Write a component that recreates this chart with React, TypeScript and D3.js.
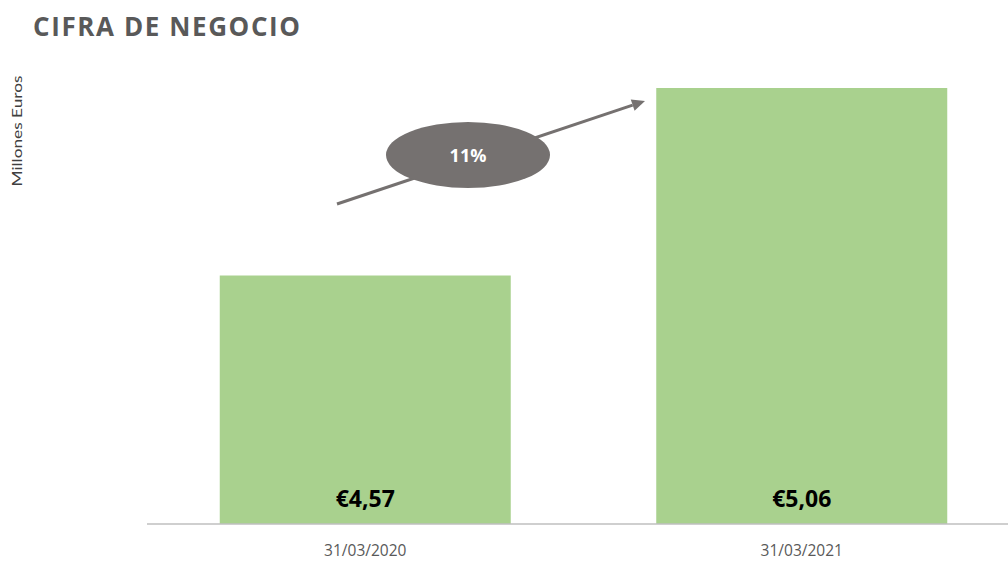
import React from "react";
import * as d3 from "d3";

const categories = ["31/03/2020", "31/03/2021"];
const values = [4.57, 5.06];
const valueLabels = ["€4,57", "€5,06"];
const growthLabel = "11%";
const title = "CIFRA DE NEGOCIO";
const yAxisTitle = "Millones Euros";

const W = 1008;
const H = 563;

export default function App() {
  const x = d3
    .scaleBand<string>()
    .domain(categories)
    .range([147, 1020])
    .paddingInner(1 / 3)
    .paddingOuter(1 / 6);
  const baseY = 524;
  const y = d3.scaleLinear().domain([3.9206, 5.2]).range([baseY, baseY - 1.2794 * 382.65]);

  const bw = x.bandwidth();
  const x0 = 337, y0 = 204, x1 = 645, y1 = 101;
  const ang = Math.atan2(y1 - y0, x1 - x0);
  const ah = 13, aw = 6;
  const bx = x1 - ah * Math.cos(ang), by = y1 - ah * Math.sin(ang);
  const px = -Math.sin(ang) * aw, py = Math.cos(ang) * aw;

  return (
    <svg
      width={W}
      height={H}
      style={{ position: "absolute", left: 0, top: 0, background: "#fff" }}
      fontFamily="'Open Sans', sans-serif"
    >
      <text
        x={33}
        y={36}
        fontSize={26}
        fontWeight={700}
        fill="#595959"
        textLength={267}
        lengthAdjust="spacing"
      >
        {title}
      </text>
      <text
        transform={`translate(22,131) rotate(-90)`}
        textAnchor="middle"
        fontSize={13.5}
        fill="#404040"
        textLength={111}
        lengthAdjust="spacingAndGlyphs"
        fontFamily="Lato, 'Open Sans', sans-serif"
      >
        {yAxisTitle}
      </text>
      {categories.map((c, i) => (
        <g key={c}>
          <rect
            x={x(c)!}
            y={y(values[i])}
            width={bw}
            height={baseY - y(values[i])}
            fill="#a9d18e"
          />
          <text
            x={x(c)! + bw / 2}
            y={507}
            textAnchor="middle"
            fontSize={23}
            fontWeight={700}
            fill="#000"
          >
            {valueLabels[i]}
          </text>
          <text
            x={x(c)! + bw / 2}
            y={556}
            textAnchor="middle"
            fontSize={15.5}
            fill="#595959"
          >
            {c}
          </text>
        </g>
      ))}
      <line x1={147} x2={1008} y1={baseY} y2={baseY} stroke="#bfbfbf" strokeWidth={1.5} />
      <line x1={x0} y1={y0} x2={bx} y2={by} stroke="#757170" strokeWidth={3} />
      <polygon
        points={`${x1},${y1} ${bx + px},${by + py} ${bx - px},${by - py}`}
        fill="#757170"
      />
      <ellipse cx={468} cy={155} rx={82} ry={33} fill="#757170" />
      <text x={468} y={162} textAnchor="middle" fontSize={18} fontWeight={700} fill="#fff">
        {growthLabel}
      </text>
    </svg>
  );
}
